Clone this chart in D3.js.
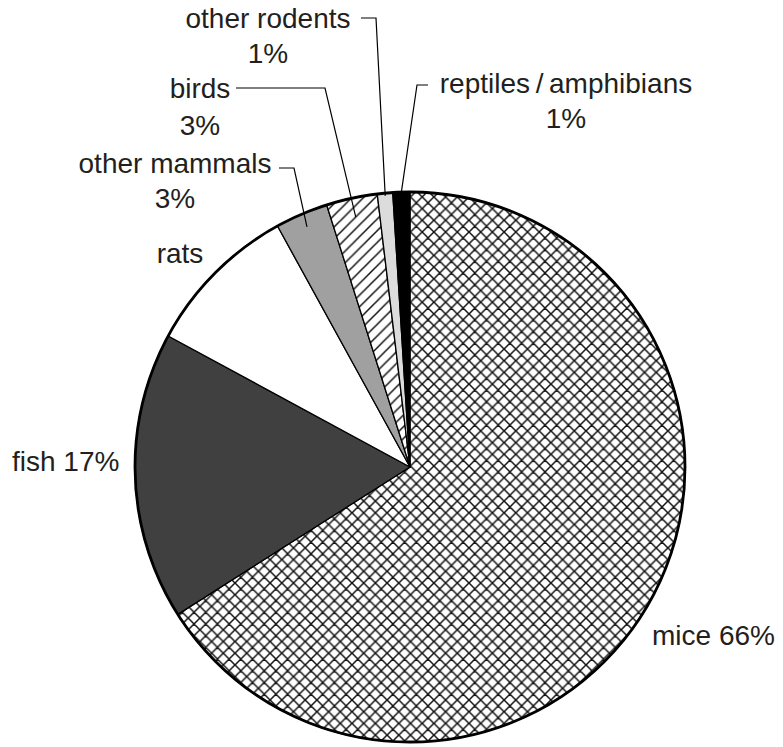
<!DOCTYPE html>
<html>
<head>
<meta charset="utf-8">
<script src="https://cdn.jsdelivr.net/npm/d3@7"></script>
<style>
  html, body { margin: 0; padding: 0; background: #fff; }
  svg { display: block; }
  text { font-family: "Liberation Sans", Arial, Helvetica, sans-serif; fill: #231f20; }
</style>
</head>
<body>
<svg id="chart" width="783" height="747"></svg>
<script>
// Data (clockwise from 12 o'clock)
const categories = ["mice", "fish", "rats", "other mammals", "birds", "other rodents", "reptiles/amphibians"];
const values = [66.0, 16.9, 9.1, 3.1, 3.0, 0.9, 1.0];
const labelLines = [
  ["mice 66%"],
  ["fish 17%"],
  ["rats"],
  ["other mammals", "3%"],
  ["birds", "3%"],
  ["other rodents", "1%"],
  ["reptiles\u2009/\u2009amphibians", "1%"]
];

const fills = ["url(#cross)", "#404040", "#ffffff", "#a0a0a0", "url(#diag)", "#dcdcdc", "#000000"];

const svg = d3.select("#chart");
const cx = 410, cy = 467, R = 275;

const P = 11.7;
const defs = svg.append("defs");
const cross = defs.append("pattern").attr("id", "cross")
  .attr("patternUnits", "userSpaceOnUse").attr("width", P).attr("height", P)
  .attr("x", cx).attr("y", cy);
cross.append("rect").attr("width", P).attr("height", P).attr("fill", "#fff");
cross.append("path")
  .attr("d", `M${-P/2},${P/2} L${P/2},${-P/2} M0,${P} L${P},0 M${P/2},${1.5*P} L${1.5*P},${P/2} ` +
             `M${-P/2},${P/2} L${P/2},${1.5*P} M0,0 L${P},${P} M${P/2},${-P/2} L${1.5*P},${P/2}`)
  .attr("stroke", "#111").attr("stroke-width", 1.5);
const diag = defs.append("pattern").attr("id", "diag")
  .attr("patternUnits", "userSpaceOnUse").attr("width", P).attr("height", P);
diag.append("rect").attr("width", P).attr("height", P).attr("fill", "#fff");
diag.append("path")
  .attr("d", `M${-P/2},${P/2} L${P/2},${-P/2} M0,${P} L${P},0 M${P/2},${1.5*P} L${1.5*P},${P/2}`)
  .attr("stroke", "#111").attr("stroke-width", 1.5);

const pie = d3.pie().sort(null).value(d => d)(values);
const arc = d3.arc().innerRadius(0).outerRadius(R);

const g = svg.append("g").attr("transform", `translate(${cx},${cy})`);
g.selectAll("path.slice").data(pie).join("path")
  .attr("class", "slice")
  .attr("d", arc)
  .attr("fill", (d, i) => fills[i])
  .attr("stroke", "#000")
  .attr("stroke-width", 1.3)
  .attr("stroke-linejoin", "round");

g.append("circle").attr("r", R).attr("fill", "none").attr("stroke", "#000").attr("stroke-width", 2.8);

// Leader lines
const leaders = [
  {i: 3, rf: 0.95, ex: 294, ey: 168, hx: 279},
  {i: 4, rf: 0.93, ex: 325, ey: 88, hx: 236},
  {i: 5, rf: 0.99, ex: 376, ey: 18, hx: 361},
  {i: 6, rf: 1.0, ex: 417, ey: 85, hx: 428}
];
const leaderG = svg.append("g");
leaders.forEach(L => {
  const d = pie[L.i];
  const a = (d.startAngle + d.endAngle) / 2;
  const px = cx + Math.sin(a) * R * L.rf;
  const py = cy - Math.cos(a) * R * L.rf;
  leaderG.append("path")
    .attr("d", `M${L.hx},${L.ey} L${L.ex},${L.ey} L${px},${py}`)
    .attr("fill", "none").attr("stroke", "#000").attr("stroke-width", 1.2);
});

// Labels
const labelPos = [
  {x: 652, y: 645, anchor: "start"},
  {x: 12, y: 471, anchor: "start"},
  {x: 180, y: 263, anchor: "middle"},
  {x: 175, y: 173, anchor: "middle", dy: 35},
  {x: 200, y: 98, anchor: "middle", dy: 37},
  {x: 268, y: 28, anchor: "middle", dy: 35},
  {x: 566, y: 93, anchor: "middle", dy: 35}
];
const fs = 28;
labelLines.forEach((lines, i) => {
  const p = labelPos[i];
  const t = svg.append("text")
    .attr("font-size", fs)
    .attr("text-anchor", p.anchor);
  lines.forEach((s, k) => {
    t.append("tspan").attr("x", p.x).attr("y", p.y + k * (p.dy || 0)).text(s);
  });
});
</script>
</body>
</html>
